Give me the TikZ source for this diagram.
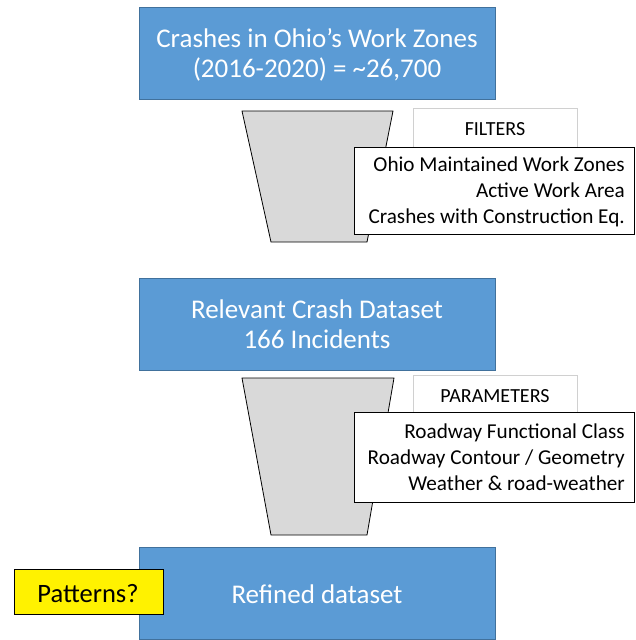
\documentclass[tikz,border=0pt]{standalone}
\usepackage{fontspec}
\setmainfont{Carlito}
\definecolor{boxblue}{HTML}{5B9BD5}
\definecolor{boxedge}{HTML}{41719C}
\definecolor{funnelgray}{HTML}{D9D9D9}
\definecolor{lightedge}{HTML}{D0D0D0}
\begin{document}
\begin{tikzpicture}[x=1pt,y=-1pt,
  bluebox/.style={draw=boxedge,line width=1pt,fill=boxblue,
    minimum width=356pt,minimum height=92pt,inner sep=0pt},
  bluetext/.style={text=white,anchor=base,inner sep=0pt,
    font=\fontsize{27}{30}\selectfont},
  funnel/.style={draw=black,line width=0.8pt,fill=funnelgray},
  headbox/.style={draw=lightedge,line width=0.8pt,fill=white,
    minimum width=164pt,minimum height=42pt,inner sep=0pt},
  headtext/.style={anchor=base,inner sep=0pt,font=\fontsize{20}{24}\selectfont},
  listbox/.style={draw=black,line width=0.8pt,fill=white,
    minimum width=280pt,inner sep=0pt},
  listtext/.style={anchor=base east,inner sep=0pt,font=\fontsize{21.2}{25}\selectfont},
  yellowbox/.style={draw=black,line width=0.8pt,fill=yellow,
    minimum width=149pt,minimum height=45pt,inner sep=0pt}]
\useasboundingbox (0,0) rectangle (635,640);
% blue boxes
\node[bluebox] (b1) at (317,53) {};
\node[bluetext] (b1a) at (317,47) {Crashes in Ohio’s Work Zones};
\node[bluetext] (b1b) at (317,77) {(2016-2020) = \textasciitilde26,700};
\node[bluebox] (b2) at (317,324) {};
\node[bluetext] (b2a) at (317,318) {Relevant Crash Dataset};
\node[bluetext] (b2b) at (317,348) {166 Incidents};
\node[bluebox] (b3) at (317,593) {};
\node[bluetext] (b3a) at (317,603) {Refined dataset};
% funnels
\draw[funnel] (242,111) -- (393,111) -- (367,242) -- (271,242) -- cycle;
\draw[funnel] (242,378) -- (394,378) -- (367,535) -- (271,535) -- cycle;
% filters
\node[headbox,anchor=north west] (fh) at (413,108) {};
\node[headtext] (fht) at (495,135) {FILTERS};
\node[listbox,anchor=north west,minimum height=87pt] (fl) at (354,147) {};
\node[listtext] (f1) at (625,171) {Ohio Maintained Work Zones};
\node[listtext] (f2) at (625,197) {Active Work Area};
\node[listtext] (f3) at (625,223) {Crashes with Construction Eq.};
% parameters
\node[headbox,anchor=north west] (ph) at (413,375) {};
\node[headtext] (pht) at (495,402) {PARAMETERS};
\node[listbox,anchor=north west,minimum height=90pt] (pl) at (354,412) {};
\node[listtext] (p1) at (625,438) {Roadway Functional Class};
\node[listtext] (p2) at (625,464) {Roadway Contour / Geometry};
\node[listtext] (p3) at (625,490) {Weather \& road-weather};
% patterns
\node[yellowbox,anchor=north west] (pat) at (14,569) {};
\node[anchor=base,inner sep=0pt,font=\fontsize{26.5}{30}\selectfont] (patt) at (88,602) {Patterns?};
\end{tikzpicture}
\end{document}
